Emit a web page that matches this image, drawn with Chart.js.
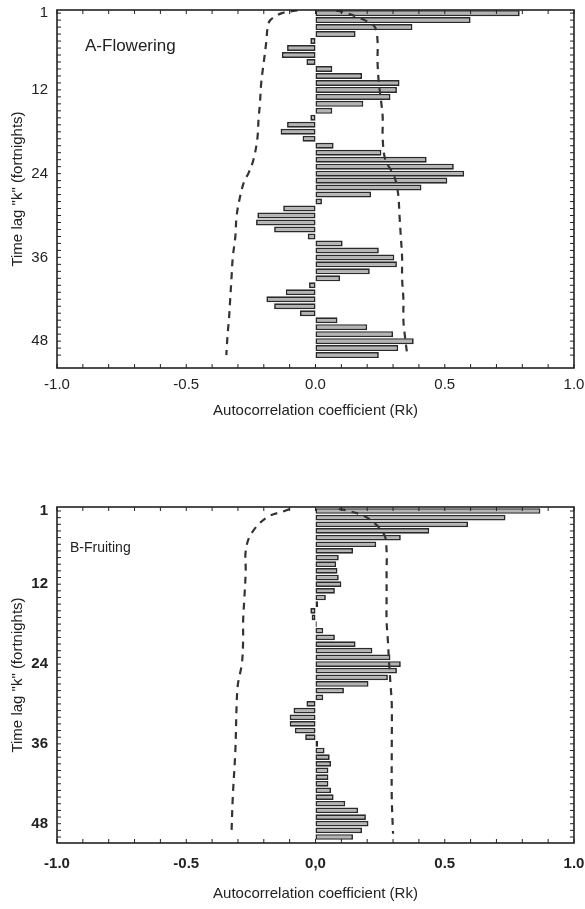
<!DOCTYPE html>
<html>
<head>
<meta charset="utf-8">
<script src="https://cdn.jsdelivr.net/npm/chart.js@4.4.1/dist/chart.umd.min.js"></script>
<style>
  body { margin: 0; background: #fff; }
  #wrap { position: relative; width: 585px; height: 909px; overflow: hidden; }
  canvas { position: absolute; left: 0; }
  .lbl { position: absolute; font-family: "Liberation Sans", Arial, sans-serif; color: #222; white-space: nowrap; }
</style>
</head>
<body>
<div id="wrap">
  <canvas id="chartA" width="585" height="440" style="top:0px"></canvas>
  <canvas id="chartB" width="585" height="414" style="top:495px"></canvas>
  <div class="lbl" style="left:85px;top:36px;font-size:17px">A-Flowering</div>
  <div class="lbl" style="left:70px;top:539px;font-size:14px">B-Fruiting</div>
</div>
<script>
// time lags (fortnights)
const lags = [1, 2, 3, 4, 5, 6, 7, 8, 9, 10, 11, 12, 13, 14, 15, 16, 17, 18, 19, 20,
  21, 22, 23, 24, 25, 26, 27, 28, 29, 30, 31, 32, 33, 34, 35, 36, 37, 38, 39, 40,
  41, 42, 43, 44, 45, 46, 47, 48, 49, 50];

// autocorrelation coefficients Rk
const flowering = [0.79, 0.60, 0.375, 0.155, -0.02, -0.11, -0.13, -0.035, 0.065, 0.18,
  0.325, 0.315, 0.29, 0.185, 0.065, -0.02, -0.11, -0.135, -0.05, 0.07,
  0.255, 0.43, 0.535, 0.575, 0.51, 0.41, 0.215, 0.025, -0.125, -0.225,
  -0.23, -0.16, -0.03, 0.105, 0.245, 0.305, 0.315, 0.21, 0.095, -0.025,
  -0.115, -0.19, -0.16, -0.06, 0.085, 0.20, 0.30, 0.38, 0.32, 0.245];

const fruiting = [0.87, 0.735, 0.59, 0.44, 0.33, 0.235, 0.145, 0.09, 0.08, 0.085,
  0.09, 0.10, 0.075, 0.04, 0.01, -0.02, -0.015, 0.005, 0.03, 0.075,
  0.155, 0.22, 0.29, 0.33, 0.315, 0.28, 0.205, 0.11, 0.03, -0.035,
  -0.085, -0.10, -0.10, -0.08, -0.04, 0.01, 0.035, 0.055, 0.06, 0.05,
  0.05, 0.05, 0.06, 0.07, 0.115, 0.165, 0.195, 0.205, 0.18, 0.145];

// confidence limits (dashed lines)
const bandLagsA = [0.6, 1, 2, 3, 5, 8, 11, 14, 16, 19, 22, 24, 25, 27, 30, 33, 36, 39, 42, 45, 47, 50];
const lowerA = [-0.07, -0.13, -0.175, -0.185, -0.19, -0.20, -0.21, -0.215, -0.22, -0.225, -0.24,
  -0.26, -0.275, -0.29, -0.305, -0.31, -0.32, -0.325, -0.33, -0.335, -0.34, -0.345];
const upperA = [0.08, 0.12, 0.19, 0.23, 0.24, 0.24, 0.245, 0.255, 0.26, 0.26, 0.27,
  0.30, 0.31, 0.32, 0.325, 0.33, 0.335, 0.335, 0.34, 0.34, 0.345, 0.355];

const bandLagsB = [0.7, 1, 2, 4.5, 7, 10, 14, 17.5, 20.5, 24, 27, 30, 37, 44, 49.5];
const lowerB = [-0.10, -0.12, -0.19, -0.25, -0.27, -0.27, -0.275, -0.28, -0.28, -0.285,
  -0.30, -0.305, -0.31, -0.32, -0.325];
const upperB = [0.09, 0.13, 0.20, 0.265, 0.275, 0.275, 0.275, 0.275, 0.28, 0.285,
  0.29, 0.295, 0.295, 0.295, 0.30];

const yTickLabels = [1, 12, 24, 36, 48];
const xTickValues = [-1, -0.5, 0, 0.5, 1];
const xTickLabelsA = ['-1.0', '-0.5', '0.0', '0.5', '1.0'];
const xTickLabelsB = ['-1.0', '-0.5', '0,0', '0.5', '1.0'];

Chart.defaults.font.family = '"Liberation Sans", Arial, sans-serif';
Chart.defaults.color = '#222';

// box around the plot with small inward ticks
const frame = {
  id: 'frame',
  afterDatasetsDraw(chart) {
    const { ctx, chartArea: a, scales: { x, y } } = chart;
    ctx.save();
    ctx.strokeStyle = '#222';
    ctx.lineWidth = 1;
    ctx.beginPath();
    lags.forEach(k => {
      const py = y.getPixelForValue(k);
      ctx.moveTo(a.left, py); ctx.lineTo(a.left + 4, py);
      ctx.moveTo(a.right, py); ctx.lineTo(a.right - 4, py);
    });
    for (let i = -10; i <= 10; i++) {
      const px = x.getPixelForValue(i / 10);
      ctx.moveTo(px, a.bottom); ctx.lineTo(px, a.bottom - 4);
      ctx.moveTo(px, a.top); ctx.lineTo(px, a.top + 4);
    }
    ctx.stroke();
    ctx.lineWidth = 1.6;
    ctx.strokeRect(a.left, a.top, a.width, a.height);
    ctx.restore();
  }
};

function makeChart(id, values, bandLags, lower, upper, cfg) {
  const pts = arr => arr.map((v, i) => ({ x: v, y: bandLags[i] }));
  const dashed = data => ({
    type: 'line',
    indexAxis: 'y',
    data: data,
    borderColor: '#333',
    borderWidth: 2.2,
    borderDash: [7, 6],
    pointRadius: 0,
    tension: 0.35,
    fill: false,
    order: 0
  });
  return new Chart(document.getElementById(id), {
    type: 'bar',
    data: {
      datasets: [
        {
          data: values.map((v, i) => ({ x: v, y: lags[i] })),
          backgroundColor: '#b4b4b4',
          borderColor: '#2a2a2a',
          borderWidth: 1.7,
          borderSkipped: false,
          barPercentage: 0.86,
          categoryPercentage: 1,
          order: 1
        },
        dashed(pts(lower)),
        dashed(pts(upper))
      ]
    },
    options: {
      indexAxis: 'y',
      responsive: false,
      animation: false,
      layout: { padding: { top: cfg.top, right: 11, left: 0, bottom: 0 } },
      plugins: { legend: { display: false }, tooltip: { enabled: false } },
      scales: {
        x: {
          type: 'linear',
          min: -1, max: 1,
          grid: { display: false, drawTicks: false },
          border: { display: false },
          afterBuildTicks: s => { s.ticks = xTickValues.map(v => ({ value: v })); },
          afterFit: s => { s.height = cfg.xHeight; s.paddingLeft = 0; s.paddingRight = 0; },
          ticks: {
            padding: cfg.xPad,
            font: { size: cfg.xFont, weight: cfg.xWeight },
            callback: (v, i) => cfg.xLabels[i]
          },
          title: {
            display: true,
            text: 'Autocorrelation coefficient (Rk)',
            font: { size: 15 },
            padding: cfg.titlePad
          }
        },
        y: {
          type: 'linear',
          reverse: true,
          offset: false,
          min: cfg.yMin, max: cfg.yMax,
          grid: { display: false, drawTicks: false },
          border: { display: false },
          afterBuildTicks: s => { s.ticks = yTickLabels.map(v => ({ value: v })); },
          afterFit: s => { s.width = 57; s.paddingTop = 0; s.paddingBottom = 0; },
          ticks: {
            padding: 9,
            font: { size: 15, weight: cfg.yWeight },
            callback: v => String(v)
          },
          title: {
            display: true,
            text: 'Time lag "k" (fortnights)',
            font: { size: 15 },
            padding: 9
          }
        }
      }
    },
    plugins: [frame]
  });
}

makeChart('chartA', flowering, bandLagsA, lowerA, upperA, {
  top: 10, xHeight: 72, yMin: 0.55, yMax: 51.85, xPad: 8,
  xLabels: xTickLabelsA, xFont: 15, xWeight: 'normal', yWeight: 'normal', titlePad: 20
});

makeChart('chartB', fruiting, bandLagsB, lowerB, upperB, {
  top: 12, xHeight: 66, yMin: 0.4, yMax: 50.9, xPad: 12,
  xLabels: xTickLabelsB, xFont: 15, xWeight: 'bold', yWeight: 'bold', titlePad: 6
});
</script>
</body>
</html>
